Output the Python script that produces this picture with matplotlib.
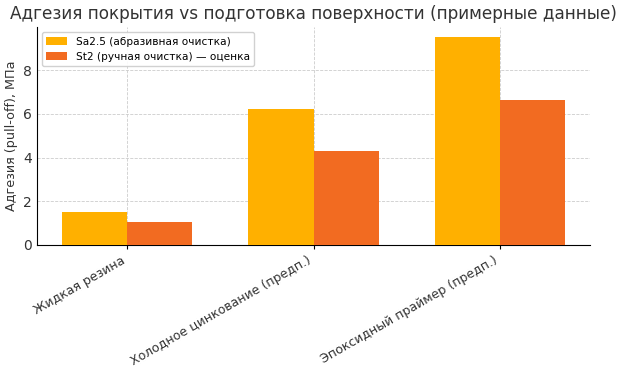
import numpy as np
import matplotlib
matplotlib.use("Agg")
import matplotlib.pyplot as plt

# ── data ────────────────────────────────────────────────────────────────────
categories = ["Жидкая резина", "Холодное цинкование (предп.)", "Эпоксидный праймер (предп.)"]
sa25 = [1.5, 6.2, 9.5]
st2 = [1.05, 4.3, 6.65]
series_labels = ["Sa2.5 (абразивная очистка)", "St2 (ручная очистка) — оценка"]

fig = plt.figure(figsize=(6.24, 3.71), dpi=100)
ax = fig.add_axes([0.059, 0.34, 0.887, 0.587])

x = np.arange(len(categories))
w = 0.35
ax.bar(x - w / 2, sa25, w, color="#FFB000", label=series_labels[0], zorder=3)
ax.bar(x + w / 2, st2, w, color="#F26B21", label=series_labels[1], zorder=3)

ax.set_xticks(x)
ax.set_xticklabels(categories, rotation=30, ha="right", fontsize=9, color="#333333")
ax.tick_params(axis="y", labelsize=10, length=0, labelcolor="#333333")
ax.tick_params(axis="x", length=3)
ax.set_ylabel("Адгезия (pull-off), МПа", fontsize=9.2, color="#333333")
ax.set_title("Адгезия покрытия vs подготовка поверхности (примерные данные)",
             fontsize=12.2, color="#333333", pad=6)
ax.grid(True, linestyle="--", linewidth=0.6, color="#cccccc", zorder=0)
for s in ("top", "right"):
    ax.spines[s].set_visible(False)
ax.legend(loc="upper left", fontsize=7.6, framealpha=0.9)

fig.savefig("out.png", dpi=100)
